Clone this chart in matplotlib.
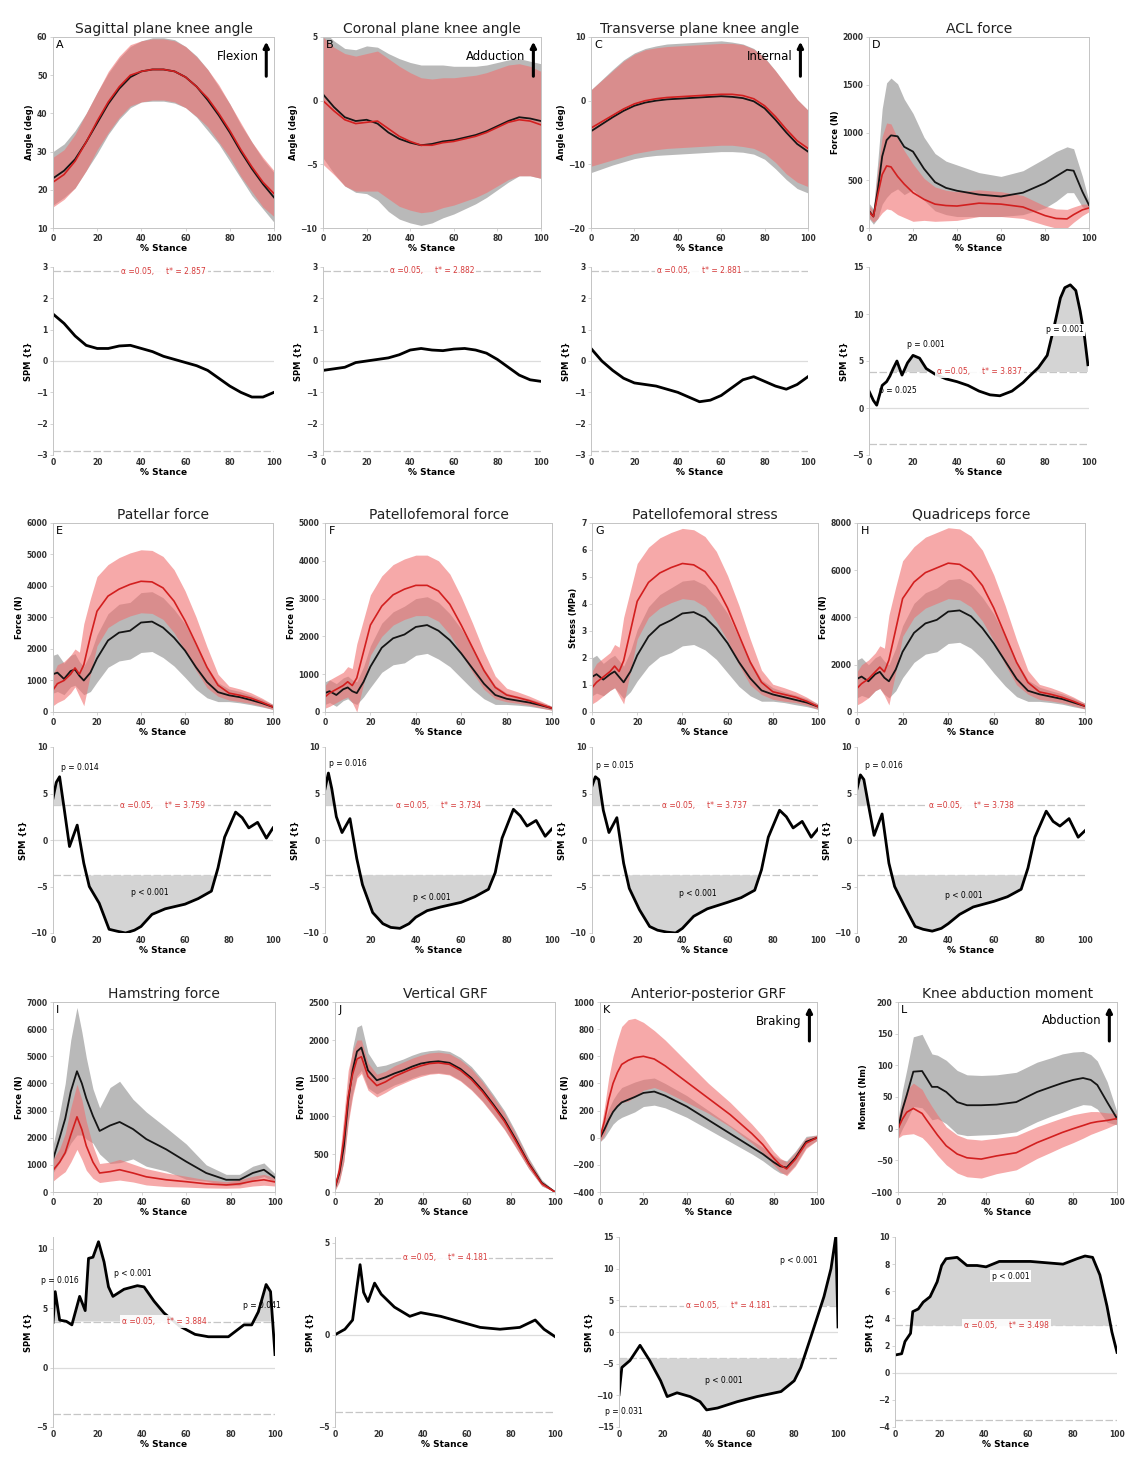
import matplotlib.pyplot as plt
import numpy as np

# ---------------- data ----------------
STANCE = [0, 5, 10, 15, 20, 25, 30, 35, 40, 45, 50, 55, 60, 65, 70, 75, 80, 85, 90, 95, 100]

# A - sagittal angle
A_ctrl = [23, 25, 28, 32.5, 37.5, 42.5, 46.5, 49.5, 51, 51.5, 51.5, 51, 49.5, 47, 43.5, 39.5, 35, 30, 25.5, 21.5, 18]
A_ctrl_sd = [7, 7, 7.5, 7.5, 8, 8, 8, 8, 8, 8.3, 8.3, 8.3, 8, 8, 8, 7.5, 7.5, 7, 7, 6.5, 6.5]
A_test = [22, 24, 27.5, 32.5, 38, 43, 47, 50, 51, 51.5, 51.5, 51, 49.5, 47, 44, 40, 35.5, 30.5, 26, 22, 19]
A_test_sd = [6.5, 6.5, 7, 7.5, 7.5, 8, 8, 8, 8, 8, 8, 8, 8, 7.8, 7.5, 7.5, 7, 7, 6.5, 6.5, 6]
A_spm = [1.5, 1.2, 0.8, 0.5, 0.4, 0.4, 0.48, 0.5, 0.4, 0.3, 0.15, 0.05, -0.05, -0.15, -0.3, -0.55, -0.8, -1.0, -1.15, -1.15, -1.0]

# B - coronal angle
B_ctrl = [0.5, -0.5, -1.3, -1.6, -1.5, -1.8, -2.5, -3.0, -3.3, -3.5, -3.4, -3.2, -3.1, -2.9, -2.7, -2.4, -2.0, -1.6, -1.3, -1.4, -1.6]
B_ctrl_sd = [5, 5.2, 5.4, 5.6, 5.8, 6, 6.2, 6.3, 6.3, 6.3, 6.2, 6, 5.8, 5.6, 5.4, 5.2, 5, 4.8, 4.6, 4.5, 4.5]
B_test = [0, -0.8, -1.5, -1.8, -1.7, -1.6, -2.2, -2.8, -3.2, -3.5, -3.5, -3.3, -3.2, -3.0, -2.8, -2.5, -2.1, -1.7, -1.5, -1.6, -1.9]
B_test_sd = [5, 5, 5.2, 5.3, 5.4, 5.5, 5.5, 5.5, 5.4, 5.3, 5.2, 5.1, 5.0, 4.9, 4.8, 4.7, 4.6, 4.5, 4.4, 4.3, 4.2]
B_spm = [-0.3, -0.25, -0.2, -0.05, 0.0, 0.05, 0.1, 0.2, 0.35, 0.4, 0.35, 0.33, 0.38, 0.4, 0.35, 0.25, 0.05, -0.2, -0.45, -0.6, -0.65]

# C - transverse angle
C_ctrl = [-4.8, -3.7, -2.6, -1.6, -0.8, -0.3, 0, 0.2, 0.3, 0.4, 0.5, 0.6, 0.7, 0.6, 0.4, -0.1, -1.2, -3, -5, -6.8, -8]
C_ctrl_sd = [6.5, 7, 7.5, 8, 8.3, 8.5, 8.6, 8.7, 8.7, 8.7, 8.7, 8.7, 8.7, 8.6, 8.5, 8.3, 8, 7.7, 7.4, 7, 6.5]
C_test = [-4.3, -3.3, -2.3, -1.3, -0.5, 0, 0.3, 0.5, 0.6, 0.7, 0.8, 0.9, 1.0, 1.0, 0.8, 0.3, -0.8, -2.5, -4.5, -6.3, -7.5]
C_test_sd = [6, 6.5, 7, 7.5, 7.8, 8, 8, 8, 8, 8, 8, 8, 8, 8, 8, 7.8, 7.5, 7.2, 7, 6.5, 6]
C_spm = [0.4, 0.0, -0.3, -0.55, -0.7, -0.75, -0.8, -0.9, -1.0, -1.15, -1.3, -1.25, -1.1, -0.85, -0.6, -0.5, -0.65, -0.8, -0.9, -0.75, -0.5]

# D - ACL force
D_x = [0, 2, 4, 6, 8, 10, 13, 16, 20, 25, 30, 35, 40, 50, 60, 70, 80, 85, 90, 93, 97, 100]
D_ctrl = [180, 120, 400, 750, 920, 970, 960, 850, 800, 620, 480, 420, 390, 350, 330, 370, 470, 540, 610, 600, 380, 240]
D_ctrl_sd = [80, 80, 300, 500, 600, 600, 550, 500, 400, 330, 300, 280, 270, 230, 210, 230, 260, 260, 240, 230, 160, 40]
D_test = [170, 120, 350, 560, 650, 640, 540, 460, 370, 300, 250, 235, 230, 260, 250, 220, 130, 100, 95, 140, 190, 210]
D_test_sd = [60, 60, 250, 400, 450, 450, 400, 350, 300, 220, 180, 160, 150, 140, 130, 120, 100, 100, 100, 80, 60, 40]
D_spm_x = [0, 2, 3.5, 6, 8, 9.5, 11, 12.7, 15, 17.5, 20, 23, 26, 30, 35, 40, 45, 50, 55, 59.5, 65, 70, 73, 77, 81, 84, 87, 89, 91.5, 94, 96, 98, 99.5]
D_spm = [1.8, 0.8, 0.3, 2.4, 2.8, 3.4, 4.2, 5.0, 3.5, 4.8, 5.6, 5.3, 4.2, 3.6, 3.1, 2.8, 2.4, 1.8, 1.4, 1.3, 1.8, 2.7, 3.4, 4.3, 5.6, 8.5, 11.7, 12.8, 13.1, 12.5, 10.3, 7.5, 4.6]

# E-H patellofemoral group
PF_x = [0, 2, 5, 8, 10, 12, 14, 17, 20, 25, 30, 35, 40, 45, 50, 55, 60, 65, 70, 75, 80, 85, 90, 95, 100]
E_ctrl = [1200, 1250, 1050, 1300, 1350, 1150, 1000, 1250, 1700, 2270, 2520, 2580, 2840, 2870, 2680, 2360, 1950, 1420, 950, 630, 530, 470, 380, 280, 160]
E_ctrl_sd = [600, 600, 500, 500, 500, 450, 450, 600, 750, 850, 900, 900, 950, 950, 950, 900, 850, 700, 500, 300, 200, 180, 150, 120, 80]
E_test = [700, 900, 1000, 1200, 1400, 1200, 1500, 2400, 3200, 3680, 3900, 4050, 4150, 4130, 3940, 3520, 2900, 2170, 1420, 850, 600, 530, 440, 310, 160]
E_test_sd = [500, 600, 600, 600, 600, 700, 1300, 1200, 1100, 1000, 1000, 1000, 1000, 1000, 1000, 1000, 950, 850, 650, 350, 220, 200, 170, 130, 80]

F_ctrl = [500, 550, 450, 600, 650, 550, 500, 800, 1200, 1700, 1950, 2050, 2250, 2300, 2150, 1900, 1550, 1150, 750, 450, 350, 300, 250, 180, 100]
F_ctrl_sd = [300, 300, 300, 300, 300, 300, 300, 400, 550, 650, 700, 750, 750, 750, 750, 700, 650, 550, 400, 250, 150, 120, 100, 80, 50]
F_test = [400, 500, 600, 700, 800, 700, 900, 1600, 2300, 2800, 3100, 3250, 3350, 3350, 3200, 2850, 2300, 1700, 1100, 650, 450, 380, 300, 200, 100]
F_test_sd = [300, 350, 350, 350, 400, 450, 900, 850, 800, 800, 800, 800, 800, 800, 800, 800, 750, 650, 500, 300, 180, 150, 120, 90, 50]

G_ctrl = [1.3, 1.4, 1.2, 1.4, 1.5, 1.3, 1.1, 1.5, 2.1, 2.8, 3.2, 3.4, 3.65, 3.7, 3.5, 3.1, 2.55, 1.85, 1.25, 0.8, 0.65, 0.55, 0.45, 0.35, 0.2]
G_ctrl_sd = [0.7, 0.7, 0.6, 0.6, 0.6, 0.6, 0.6, 0.75, 0.95, 1.1, 1.15, 1.2, 1.2, 1.2, 1.2, 1.15, 1.1, 0.9, 0.65, 0.4, 0.25, 0.2, 0.18, 0.15, 0.1]
G_test = [0.9, 1.1, 1.3, 1.5, 1.7, 1.5, 1.9, 3.0, 4.1, 4.8, 5.15, 5.35, 5.5, 5.45, 5.2, 4.65, 3.85, 2.85, 1.85, 1.1, 0.75, 0.65, 0.55, 0.4, 0.2]
G_test_sd = [0.6, 0.7, 0.7, 0.7, 0.8, 0.9, 1.6, 1.5, 1.4, 1.3, 1.3, 1.3, 1.3, 1.3, 1.3, 1.3, 1.2, 1.1, 0.85, 0.45, 0.28, 0.25, 0.2, 0.15, 0.1]

H_ctrl = [1400, 1500, 1300, 1600, 1700, 1450, 1300, 1800, 2550, 3350, 3750, 3900, 4250, 4300, 4050, 3550, 2900, 2150, 1400, 900, 750, 650, 550, 400, 250]
H_ctrl_sd = [800, 800, 700, 700, 700, 700, 700, 900, 1100, 1250, 1300, 1350, 1350, 1350, 1350, 1300, 1250, 1050, 750, 450, 300, 250, 220, 180, 120]
H_test = [1000, 1200, 1400, 1700, 1900, 1700, 2200, 3500, 4800, 5500, 5900, 6100, 6300, 6250, 5950, 5350, 4400, 3250, 2100, 1250, 850, 750, 620, 450, 250]
H_test_sd = [700, 800, 800, 800, 900, 1000, 1900, 1800, 1600, 1500, 1500, 1500, 1500, 1500, 1500, 1500, 1400, 1250, 950, 500, 320, 280, 230, 180, 120]

PF_spm_x = [0, 1.5, 3, 5, 7.5, 11, 14, 16.5, 21, 25.5, 29, 33, 37, 40, 45, 51, 60, 66, 72, 75, 78, 83, 86, 89, 93, 97, 100]
E_spm = [4.5, 6.2, 6.8, 3.5, -0.7, 1.6, -2.5, -5.0, -6.8, -9.6, -9.8, -10.0, -9.7, -9.3, -8.0, -7.4, -6.9, -6.3, -5.5, -3.0, 0.3, 3.0, 2.4, 1.3, 1.9, 0.2, 1.3]
F_spm = [5.5, 7.2, 5.5, 2.5, 0.8, 2.3, -2.0, -4.8, -7.8, -9.0, -9.4, -9.5, -9.0, -8.3, -7.6, -7.2, -6.7, -6.1, -5.3, -3.5, 0.2, 3.3, 2.6, 1.5, 2.1, 0.4, 1.2]
G_spm = [5.8, 6.8, 6.5, 3.2, 0.8, 2.4, -2.5, -5.2, -7.5, -9.3, -9.7, -9.9, -10.0, -9.5, -8.2, -7.4, -6.7, -6.2, -5.4, -3.2, 0.3, 3.2, 2.5, 1.3, 2.0, 0.3, 1.2]
H_spm = [5.5, 7.0, 6.5, 3.8, 0.5, 2.8, -2.5, -5.0, -7.2, -9.3, -9.6, -9.8, -9.5, -9.0, -8.0, -7.2, -6.6, -6.1, -5.3, -3.0, 0.3, 3.1, 2.0, 1.5, 2.3, 0.3, 1.0]

# I - hamstring force
I_x = [0, 3, 5.5, 8, 10.8, 13, 15, 18, 21, 25.7, 30, 36, 42, 51, 60, 69, 78, 84, 90, 95, 100]
I_ctrl = [1200, 2000, 2700, 3700, 4450, 4000, 3450, 2800, 2250, 2450, 2580, 2320, 1950, 1570, 1120, 700, 450, 450, 700, 820, 520]
I_ctrl_sd = [500, 900, 1300, 1900, 2350, 1900, 1500, 1000, 850, 1400, 1500, 1100, 1000, 800, 650, 300, 200, 200, 250, 250, 150]
I_test = [800, 1100, 1450, 2100, 2770, 2300, 1700, 1100, 700, 750, 820, 700, 560, 450, 380, 300, 260, 300, 400, 450, 370]
I_test_sd = [400, 500, 700, 1000, 1200, 1100, 900, 600, 350, 350, 380, 330, 300, 250, 200, 150, 120, 150, 180, 200, 150]
I_spm_x = [0, 1, 3, 6, 8.5, 12, 14.5, 16, 18, 20.5, 23, 25, 27, 32, 38, 41, 45.5, 50, 57, 64, 70, 79, 86, 89.5, 92.5, 96, 98, 100]
I_spm = [3.8, 6.4, 4.0, 3.9, 3.6, 6.0, 4.8, 9.2, 9.3, 10.6, 8.9, 6.8, 6.0, 6.6, 6.9, 6.8, 5.6, 4.6, 3.5, 2.8, 2.6, 2.6, 3.6, 3.6, 4.7, 7.0, 6.4, 1.1]

# J - vertical GRF
J_x = [0, 2, 4, 6, 8, 10, 12, 15, 19, 23, 27, 31, 35, 39, 43, 47, 52, 57, 62, 67, 72, 77, 82, 88, 94, 100]
J_ctrl = [60, 250, 600, 1200, 1600, 1850, 1900, 1600, 1470, 1510, 1560, 1600, 1650, 1690, 1710, 1720, 1700, 1620, 1500, 1340, 1150, 950, 700, 380, 120, 0]
J_ctrl_sd = [40, 100, 200, 250, 300, 320, 300, 230, 180, 160, 150, 150, 150, 150, 150, 150, 150, 150, 150, 140, 130, 120, 100, 70, 40, 10]
J_test = [60, 280, 700, 1250, 1550, 1750, 1780, 1520, 1400, 1450, 1520, 1570, 1620, 1660, 1690, 1700, 1680, 1600, 1480, 1320, 1130, 930, 680, 370, 110, 0]
J_test_sd = [40, 150, 300, 350, 300, 250, 220, 180, 150, 140, 140, 140, 140, 140, 140, 140, 140, 140, 140, 130, 120, 110, 90, 60, 30, 10]
J_spm_x = [0, 4.5, 8, 10, 11.4, 13, 15, 18, 21, 27, 34, 39, 48, 57, 66, 75, 84, 91, 95, 100]
J_spm = [0.0, 0.3, 0.8, 2.6, 3.8, 2.3, 1.8, 2.8, 2.2, 1.5, 1.0, 1.2, 1.0, 0.7, 0.4, 0.3, 0.4, 0.8, 0.3, -0.1]

# K - anterior-posterior GRF
K_x = [0, 2, 4, 6, 8, 10, 13, 16, 20, 25, 30, 35, 40, 45, 50, 55, 60, 65, 70, 75, 80, 83, 86, 90, 95, 100]
K_ctrl = [0, 60, 130, 190, 230, 260, 280, 300, 330, 340, 310, 270, 230, 180, 130, 80, 30, -20, -70, -120, -180, -210, -220, -150, -30, 0]
K_ctrl_sd = [30, 60, 80, 90, 100, 110, 110, 110, 100, 100, 90, 85, 80, 75, 70, 65, 60, 55, 50, 50, 50, 50, 50, 50, 40, 20]
K_test = [0, 120, 280, 400, 480, 540, 570, 590, 600, 580, 530, 470, 410, 350, 290, 230, 170, 100, 30, -50, -150, -200, -230, -160, -40, 0]
K_test_sd = [30, 100, 160, 200, 240, 280, 300, 290, 250, 210, 190, 170, 150, 130, 110, 100, 90, 80, 70, 60, 50, 50, 50, 50, 40, 20]
K_spm_x = [0, 1.3, 5, 9.6, 14, 19, 22, 26.5, 32.5, 37, 40, 45, 54, 63, 74, 80, 83, 87.6, 93.6, 96.8, 99, 100]
K_spm = [-9.9, -5.6, -4.5, -2.1, -4.5, -7.7, -10.2, -9.6, -10.2, -11.0, -12.3, -12.0, -11.0, -10.2, -9.4, -7.7, -5.6, -0.8, 5.6, 10.0, 15.1, 0.8]

# L - knee abduction moment
L_x = [0, 2, 4, 7, 11, 13, 15.5, 18, 22, 27, 31.5, 38, 45, 54, 63.5, 70, 75, 80, 84.5, 88, 91, 95.5, 100]
L_ctrl = [0, 30, 53, 90, 91, 80, 66, 66, 58, 42, 37, 37, 38, 42, 58, 66, 72, 77, 80, 77, 69, 42, 16]
L_ctrl_sd = [15, 30, 40, 55, 58, 55, 52, 50, 50, 50, 48, 47, 47, 47, 47, 46, 46, 44, 42, 40, 38, 32, 10]
L_test = [0, 15, 26, 32, 24, 14, 2, -10, -27, -40, -46, -48, -43, -38, -22, -13, -6, 0, 5, 9, 11, 13, 16]
L_test_sd = [15, 25, 35, 40, 38, 35, 33, 32, 30, 30, 30, 30, 28, 27, 25, 24, 23, 22, 20, 18, 16, 12, 8]
L_spm_x = [0, 3, 4.5, 7, 8, 10.5, 12.7, 15.8, 19, 21, 23, 28, 32.4, 37, 41, 47, 61, 75.7, 82, 85.6, 89, 92.3, 95.5, 97.7, 100]
L_spm = [1.3, 1.4, 2.3, 2.9, 4.5, 4.7, 5.2, 5.6, 6.7, 7.9, 8.4, 8.5, 7.9, 7.9, 7.8, 8.2, 8.2, 8.0, 8.4, 8.6, 8.5, 7.2, 4.9, 3.0, 1.5]

# ---------------- style ----------------
GREY_BAND = "#b9b9b9"
RED_BAND = "#f07070"
BLACK = "#151515"
RED = "#d21f1f"
TXT_RED = "#d63a3a"
SPINE = "#c4c4c4"

W, H = 1127, 1462
fig = plt.figure(figsize=(W / 100, H / 100), dpi=100)


def box(x0, x1, y0, y1):
    return [x0 / W, 1 - y1 / H, (x1 - x0) / W, (y1 - y0) / H]


def style_ticks(ax):
    ax.tick_params(labelsize=5.5, length=2, width=0.5, color=SPINE, pad=2)
    for lab in ax.get_xticklabels() + ax.get_yticklabels():
        lab.set_fontweight("bold")
        lab.set_color("#303030")


def draw_top(pos, x, ctrl, ctrl_sd, test, test_sd, ylim, yticks, ylabel, letter, title, arrow=None):
    ax = fig.add_axes(pos)
    x = np.array(x)
    c, cs = np.array(ctrl), np.array(ctrl_sd)
    t, ts = np.array(test), np.array(test_sd)
    lo_c, lo_t = c - cs, t - ts
    if ylim[0] == 0:
        lo_c, lo_t = np.maximum(lo_c, 0), np.maximum(lo_t, 0)
    ax.fill_between(x, lo_c, c + cs, color=GREY_BAND, lw=0)
    ax.fill_between(x, lo_t, t + ts, color=RED_BAND, alpha=0.6, lw=0)
    ax.plot(x, c, color=BLACK, lw=1.3)
    ax.plot(x, t, color=RED, lw=1.2)
    ax.set_xlim(0, 100)
    ax.set_ylim(*ylim)
    ax.set_xticks([0, 20, 40, 60, 80, 100])
    ax.set_yticks(yticks)
    for s in ax.spines.values():
        s.set_color(SPINE)
        s.set_linewidth(0.7)
    style_ticks(ax)
    ax.set_ylabel(ylabel, fontsize=6, fontweight="bold", labelpad=2)
    ax.set_xlabel("% Stance", fontsize=6.5, fontweight="bold", labelpad=1)
    ax.set_title(title, fontsize=10, pad=3, color="#202020")
    ax.text(0.015, 0.985, letter, transform=ax.transAxes, fontsize=8, va="top", ha="left")
    if arrow:
        ax.annotate("", xy=(0.965, 0.99), xytext=(0.965, 0.78), xycoords="axes fraction",
                    arrowprops=dict(arrowstyle="-|>", lw=2.2, color="k", mutation_scale=8))
        ax.text(0.93, 0.9, arrow, transform=ax.transAxes, fontsize=8.5, ha="right", va="center")
    return ax


def draw_spm(pos, x, z, tstar, ylim, yticks, plabels, tx=50):
    ax = fig.add_axes(pos)
    x, z = np.array(x), np.array(z)
    ax.axhline(tstar, color="#c6c6c6", lw=0.9, ls=(0, (6, 2)), zorder=1)
    ax.axhline(-tstar, color="#c6c6c6", lw=0.9, ls=(0, (6, 2)), zorder=1)
    ax.axhline(0, color="#dcdcdc", lw=0.9, zorder=1)
    ax.fill_between(x, z, tstar, where=z > tstar, interpolate=True, color="#d4d4d4", lw=0)
    ax.fill_between(x, z, -tstar, where=z < -tstar, interpolate=True, color="#d4d4d4", lw=0)
    ax.plot(x, z, color="k", lw=2)
    ax.text(tx, tstar, "\u03b1 =0.05,     t* = %.3f" % tstar, color=TXT_RED, fontsize=5.5,
            ha="center", va="center", zorder=4,
            bbox=dict(fc="white", ec="none", pad=1.5, alpha=0.9))
    for px, py, s, white in plabels:
        kw = dict(fc="white", ec="none", pad=1) if white else None
        ax.text(px, py, s, fontsize=5.5, ha="center", va="center", zorder=5, bbox=kw)
    ax.set_xlim(0, 100)
    ax.set_ylim(*ylim)
    ax.set_xticks([0, 20, 40, 60, 80, 100])
    ax.set_yticks(yticks)
    for k in ("top", "right", "bottom"):
        ax.spines[k].set_visible(False)
    ax.spines["left"].set_color(SPINE)
    ax.spines["left"].set_linewidth(0.7)
    style_ticks(ax)
    ax.tick_params(axis="x", length=0)
    ax.set_ylabel("SPM {t}", fontsize=6, fontweight="bold", labelpad=2)
    ax.set_xlabel("% Stance", fontsize=6.5, fontweight="bold", labelpad=1)
    return ax


# ---------------- row 1 ----------------
R1T, R1S = (37, 228), (267, 455)
draw_top(box(53, 274, *R1T), STANCE, A_ctrl, A_ctrl_sd, A_test, A_test_sd, (10, 60),
         [10, 20, 30, 40, 50, 60], "Angle (deg)", "A", "Sagittal plane knee angle", "Flexion")
draw_spm(box(53, 274, *R1S), STANCE, A_spm, 2.857, (-3, 3), [-3, -2, -1, 0, 1, 2, 3], [])

draw_top(box(323, 541, *R1T), STANCE, B_ctrl, B_ctrl_sd, B_test, B_test_sd, (-10, 5),
         [-10, -5, 0, 5], "Angle (deg)", "B", "Coronal plane knee angle", "Adduction")
draw_spm(box(323, 541, *R1S), STANCE, B_spm, 2.882, (-3, 3), [-3, -2, -1, 0, 1, 2, 3], [])

draw_top(box(591, 808, *R1T), STANCE, C_ctrl, C_ctrl_sd, C_test, C_test_sd, (-20, 10),
         [-20, -10, 0, 10], "Angle (deg)", "C", "Transverse plane knee angle", "Internal")
draw_spm(box(591, 808, *R1S), STANCE, C_spm, 2.881, (-3, 3), [-3, -2, -1, 0, 1, 2, 3], [])

draw_top(box(869, 1089, *R1T), D_x, D_ctrl, D_ctrl_sd, D_test, D_test_sd, (0, 2000),
         [0, 500, 1000, 1500, 2000], "Force (N)", "D", "ACL force")
draw_spm(box(869, 1089, *R1S), D_spm_x, D_spm, 3.837, (-5, 15), [-5, 0, 5, 10, 15],
         [(13, 1.9, "p = 0.025", False), (26, 6.8, "p = 0.001", False), (89, 8.3, "p = 0.001", True)])

# ---------------- row 2 ----------------
R2T, R2S = (523, 712), (747, 933)
pf_ticks = [-10, -5, 0, 5, 10]
draw_top(box(53, 273, *R2T), PF_x, E_ctrl, E_ctrl_sd, E_test, E_test_sd, (0, 6000),
         [0, 1000, 2000, 3000, 4000, 5000, 6000], "Force (N)", "E", "Patellar force")
draw_spm(box(53, 273, *R2S), PF_spm_x, E_spm, 3.759, (-10, 10), pf_ticks,
         [(12, 7.8, "p = 0.014", False), (44, -5.6, "p < 0.001", False)])

draw_top(box(325, 552, *R2T), PF_x, F_ctrl, F_ctrl_sd, F_test, F_test_sd, (0, 5000),
         [0, 1000, 2000, 3000, 4000, 5000], "Force (N)", "F", "Patellofemoral force")
draw_spm(box(325, 552, *R2S), PF_spm_x, F_spm, 3.734, (-10, 10), pf_ticks,
         [(10, 8.2, "p = 0.016", False), (47, -6.2, "p < 0.001", False)])

draw_top(box(592, 818, *R2T), PF_x, G_ctrl, G_ctrl_sd, G_test, G_test_sd, (0, 7),
         [0, 1, 2, 3, 4, 5, 6, 7], "Stress (MPa)", "G", "Patellofemoral stress")
draw_spm(box(592, 818, *R2S), PF_spm_x, G_spm, 3.737, (-10, 10), pf_ticks,
         [(10, 8.0, "p = 0.015", False), (47, -5.8, "p < 0.001", False)])

draw_top(box(857, 1085, *R2T), PF_x, H_ctrl, H_ctrl_sd, H_test, H_test_sd, (0, 8000),
         [0, 2000, 4000, 6000, 8000], "Force (N)", "H", "Quadriceps force")
draw_spm(box(857, 1085, *R2S), PF_spm_x, H_spm, 3.738, (-10, 10), pf_ticks,
         [(12, 8.0, "p = 0.016", False), (47, -6.0, "p < 0.001", False)])

# ---------------- row 3 ----------------
R3T, R3S = (1002, 1192), (1237, 1427)
draw_top(box(53, 275, *R3T), I_x, I_ctrl, I_ctrl_sd, I_test, I_test_sd, (0, 7000),
         [0, 1000, 2000, 3000, 4000, 5000, 6000, 7000], "Force (N)", "I", "Hamstring force")
draw_spm(box(53, 275, *R3S), I_spm_x, I_spm, 3.884, (-5, 11), [-5, 0, 5, 10],
         [(3, 7.3, "p = 0.016", False), (36, 7.9, "p < 0.001", False), (94, 5.2, "p = 0.041", False)])

draw_top(box(335, 555, *R3T), J_x, J_ctrl, J_ctrl_sd, J_test, J_test_sd, (0, 2500),
         [0, 500, 1000, 1500, 2000, 2500], "Force (N)", "J", "Vertical GRF")
draw_spm(box(335, 555, *R3S), J_spm_x, J_spm, 4.181, (-5, 5.3), [-5, 0, 5], [])

draw_top(box(600, 817, *R3T), K_x, K_ctrl, K_ctrl_sd, K_test, K_test_sd, (-400, 1000),
         [-400, -200, 0, 200, 400, 600, 800, 1000], "Force (N)", "K", "Anterior-posterior GRF", "Braking")
draw_spm(box(619, 838, *R3S), K_spm_x, K_spm, 4.181, (-15, 15), [-15, -10, -5, 0, 5, 10, 15],
         [(82, 11.3, "p < 0.001", True), (48, -7.7, "p < 0.001", False), (2, -12.6, "p = 0.031", False)])

draw_top(box(898, 1117, *R3T), L_x, L_ctrl, L_ctrl_sd, L_test, L_test_sd, (-100, 200),
         [-100, -50, 0, 50, 100, 150, 200], "Moment (Nm)", "L", "Knee abduction moment", "Abduction")
draw_spm(box(895, 1117, *R3S), L_spm_x, L_spm, 3.498, (-4, 10), [-4, -2, 0, 2, 4, 6, 8, 10],
         [(52, 7.1, "p < 0.001", True)])

fig.savefig("out.png", dpi=100)
